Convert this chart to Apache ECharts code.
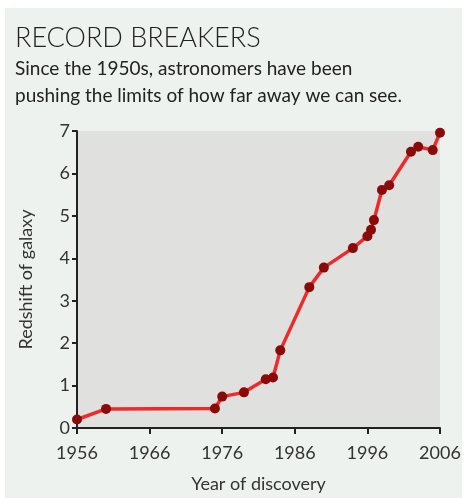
<!DOCTYPE html>
<html>
<head>
<meta charset="utf-8">
<script src="https://cdn.jsdelivr.net/npm/echarts@6/dist/echarts.min.js"></script>
<style>
html,body{margin:0;padding:0;background:#ffffff;}
#wrap{position:relative;width:467px;height:498px;background:#ffffff;}
#panel{position:absolute;left:5px;top:8px;width:457px;height:490px;background:#eef2ef;}
#chart{position:absolute;left:0;top:0;width:467px;height:498px;}
</style>
</head>
<body>
<div id="wrap"><div id="panel"></div><div id="chart"></div></div>
<script>
const titleText = 'RECORD BREAKERS';
const subtitleText = 'Since the 1950s, astronomers have been\npushing the limits of how far away we can see.';
const xAxisName = 'Year of discovery';
const yAxisName = 'Redshift of galaxy';
const years = [1956, 1960, 1975, 1976, 1979, 1982, 1983, 1984, 1988, 1990, 1994, 1996, 1996.5, 1996.9, 1998, 1999, 2002, 2003, 2005, 2006];
const redshifts = [0.20, 0.45, 0.46, 0.74, 0.84, 1.15, 1.19, 1.83, 3.32, 3.78, 4.24, 4.52, 4.67, 4.90, 5.61, 5.72, 6.51, 6.63, 6.55, 6.96];
const xTicks = [1956, 1966, 1976, 1986, 1996, 2006];
const yTicks = [0, 1, 2, 3, 4, 5, 6, 7];

const font = 'Lato, "Open Sans", sans-serif';
const chart = echarts.init(document.getElementById('chart'), null, {renderer: 'canvas'});
chart.setOption({
  backgroundColor: 'transparent',
  animation: false,
  title: {
    text: titleText,
    subtext: subtitleText,
    left: 10,
    top: 18,
    itemGap: 2,
    textStyle: {fontFamily: font, fontSize: 27, fontWeight: 300, color: '#222222', lineHeight: 30},
    subtextStyle: {fontFamily: font, fontSize: 19, fontWeight: 400, color: '#222222', lineHeight: 27}
  },
  grid: {
    left: 77, right: 27, top: 131, bottom: 65,
    show: true, backgroundColor: '#e0e1df', borderWidth: 0
  },
  xAxis: {
    type: 'value',
    min: 1956, max: 2006, interval: 10,
    name: xAxisName,
    nameLocation: 'middle',
    nameGap: 47,
    nameTextStyle: {fontFamily: font, fontSize: 18, color: '#333333'},
    axisLine: {show: true, lineStyle: {color: '#222222', width: 2}},
    axisTick: {show: true, length: 6, lineStyle: {color: '#222222', width: 2}},
    axisLabel: {
      fontFamily: font, fontSize: 18, color: '#333333', margin: 16,
      formatter: v => xTicks.includes(v) ? String(v) : ''
    },
    splitLine: {show: false}
  },
  yAxis: {
    type: 'value',
    min: 0, max: 7, interval: 1,
    name: yAxisName,
    nameLocation: 'middle',
    nameGap: 42,
    nameRotate: 90,
    nameTextStyle: {fontFamily: font, fontSize: 18, color: '#333333'},
    axisLine: {show: true, lineStyle: {color: '#222222', width: 2}},
    axisTick: {show: true, length: 5, lineStyle: {color: '#222222', width: 2}},
    axisLabel: {
      fontFamily: font, fontSize: 18, color: '#333333', margin: 7,
      formatter: v => yTicks.includes(v) ? String(v) : ''
    },
    splitLine: {show: false}
  },
  series: [{
    type: 'line',
    data: years.map((y, i) => [y, redshifts[i]]),
    symbol: 'circle',
    symbolSize: 10,
    clip: false,
    lineStyle: {color: '#ee2a2b', width: 3.5},
    itemStyle: {color: '#8a0a0a'},
    z: 3
  }]
});
</script>
</body>
</html>
